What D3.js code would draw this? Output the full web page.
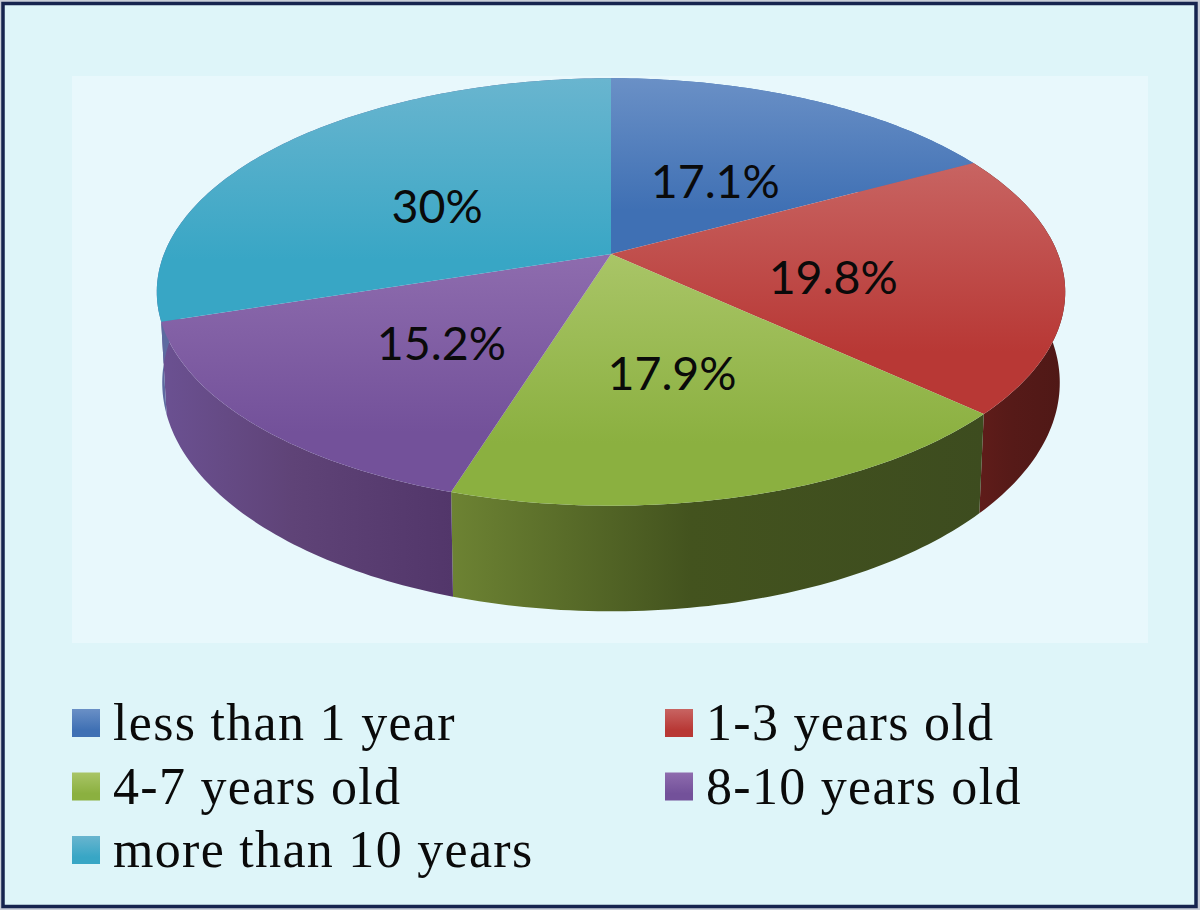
<!DOCTYPE html>
<html><head><meta charset="utf-8">
<style>html,body{margin:0;padding:0;background:#fff}svg{display:block}</style>
<script src="https://cdn.jsdelivr.net/npm/d3@7/dist/d3.min.js"></script>
</head><body><svg id="c" width="1200" height="910"></svg>
<script>
const categories = ["less than 1 year","1-3 years old","4-7 years old","8-10 years old","more than 10 years"];
const values = [17.1,19.8,17.9,15.2,30];
const valueLabels = ["17.1%","19.8%","17.9%","15.2%","30%"];
const topLight = ["#6a90c6","#c86462","#a9c567","#8e6cae","#69b5cf"];
const topDark  = ["#3f70b4","#b83835","#8bb040","#73519a","#38a6c5"];
const wallStart = ["#3f70b4","#621d1a","#6d8333","#6b5192","#5d6aa0"];
const wallMid   = ["#3f70b4","#561a18","#43531e","#5f4377","#5d6aa0"];
const wallEnd   = ["#3f70b4","#4f1816","#3d4c1f","#52366a","#5d6aa0"];

const svg = d3.select("#c");
const defs = svg.append("defs");
// page frame and plot panel
svg.append("rect").attr("width",1200).attr("height",910).attr("fill","#c9ced8");
svg.append("rect").attr("x",3).attr("y",3.5).attr("width",1193).attr("height",903)
  .attr("fill","#def5f9").attr("stroke","#16244f").attr("stroke-width",3.5);
svg.append("rect").attr("x",72).attr("y",76).attr("width",1076).attr("height",567).attr("fill","#e8f8fc");

// perspective projection of the unit disc
const C = {x:611,y:254}, A = 447, B = 207, K = 0.1776;
function proj(angle, r, sx, sy, drop){
  const u = r*Math.sin(angle), v = -r*Math.cos(angle), w = 1 - K*v;
  return [C.x + sx*A*u/w, C.y + drop + sy*B*v/w];
}
const arcs = d3.pie().value(d=>d).sort(null)(values);
const line = d3.line();
const STEP = Math.PI/180;
function rim(a,sx,sy,drop){
  const n = Math.max(2,Math.ceil((a.endAngle-a.startAngle)/STEP));
  return d3.range(n+1).map(i=>{
    const t = a.startAngle + (a.endAngle-a.startAngle)*i/n;
    return proj(t,1,sx,sy,drop);
  });
}
const BOTTOM = {sx:0.988, sy:1.07, drop:88};

// gradients
arcs.forEach((a,i)=>{
  const g = defs.append("linearGradient").attr("id","top"+i)
    .attr("x1",0).attr("y1",0).attr("x2",0).attr("y2",1);
  g.append("stop").attr("offset",0).attr("stop-color",topLight[i]);
  g.append("stop").attr("offset",0.75).attr("stop-color",topDark[i]);
  g.append("stop").attr("offset",1).attr("stop-color",topDark[i]);
  const w = defs.append("linearGradient").attr("id","wall"+i)
    .attr("x1",0).attr("y1",0).attr("x2",1).attr("y2",0);
  w.append("stop").attr("offset",0).attr("stop-color",wallStart[i]);
  w.append("stop").attr("offset",0.45).attr("stop-color",wallMid[i]);
  w.append("stop").attr("offset",1).attr("stop-color",wallEnd[i]);
});

// walls
svg.append("g").selectAll("path").data(arcs).join("path")
  .attr("d",a=>line(rim(a,1,1,0).concat(rim(a,BOTTOM.sx,BOTTOM.sy,BOTTOM.drop).reverse()))+"Z")
  .attr("fill",(a,i)=>`url(#wall${i})`);
// top faces
svg.append("g").selectAll("path").data(arcs).join("path")
  .attr("d",a=>line([[C.x,C.y]].concat(rim(a,1,1,0)))+"Z")
  .attr("fill",(a,i)=>`url(#top${i})`);
// value labels
svg.append("g").selectAll("text").data(arcs).join("text")
  .attr("x",a=>proj((a.startAngle+a.endAngle)/2,0.5,1,1,0)[0]-2)
  .attr("y",a=>proj((a.startAngle+a.endAngle)/2,0.5,1,1,0)[1]+27)
  .attr("text-anchor","middle")
  .attr("font-family","Lato, sans-serif").attr("font-size",46.5).attr("fill","#0a0a0a")
  .text((a,i)=>valueLabels[i]);

// legend
const col = d3.scalePoint().domain([0,1]).range([72,665]);
const row = d3.scalePoint().domain([0,1,2]).range([709,836]);
const lg = svg.append("g").selectAll("g").data(categories).join("g")
  .attr("transform",(d,i)=>`translate(${col(i%2)},${row(Math.floor(i/2))})`);
lg.append("rect").attr("width",28).attr("height",28).attr("fill",(d,i)=>`url(#top${i})`);
lg.append("text").attr("x",41).attr("y",31)
  .attr("font-family","'Liberation Serif', serif").attr("font-size",52).attr("letter-spacing",1.3).attr("fill","#0a0a0a")
  .text(d=>d);
</script></body></html>
